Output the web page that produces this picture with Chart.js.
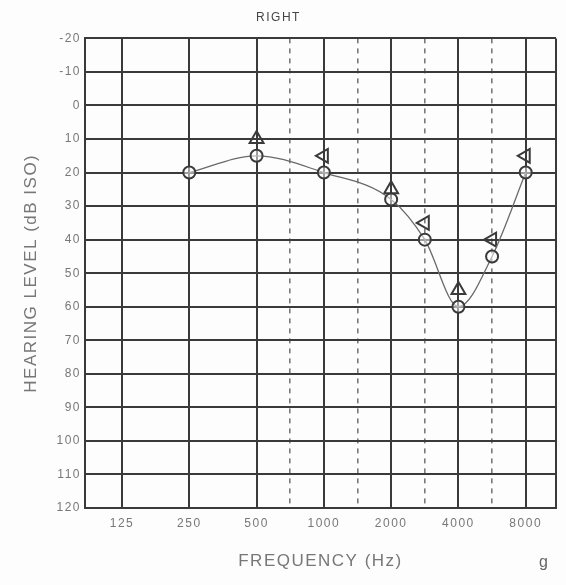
<!DOCTYPE html>
<html>
<head>
<meta charset="utf-8">
<script src="https://cdn.jsdelivr.net/npm/chart.js@4.4.1/dist/chart.umd.min.js"></script>
<style>
  html, body { margin: 0; padding: 0; background: #fdfdfd; }
  #wrap { position: relative; width: 566px; height: 585px; }
  #tag { position: absolute; left: 539px; top: 553px; font: 16px "Liberation Sans", sans-serif; color: #666; }
</style>
</head>
<body>
<div id="wrap"><canvas id="myChart"></canvas><span id="tag">g</span></div>
<script>
// audiogram, right ear (dB HL)
const freqs = [250, 500, 1000, 2000, 3000, 4000, 6000, 8000];
const circleLevels = [20, 15, 20, 28, 40, 60, 45, 20];
const triangleUpLevels = [null, 10, null, 25, null, 55, null, null];
const triangleLeftLevels = [null, null, 15, null, 35, null, 40, 15];
const octaveFreqs = [125, 250, 500, 1000, 2000, 4000, 8000];
const halfOctaveFreqs = [750, 1500, 3000, 6000];
const levelTicks = [-20, -10, 0, 10, 20, 30, 40, 50, 60, 70, 80, 90, 100, 110, 120];

// octave position on the audiogram (125 Hz = 0), inter-octaves sit half way
const pos = f => Math.round(2 * Math.log2(f / 125)) / 2;
const toPoints = levels => freqs.map((f, i) => ({ x: pos(f), y: levels[i] }));

const xMin = -0.55, xMax = 6.45;
const ink = '#3a3a3a';
const font = '"Liberation Sans", Arial, sans-serif';

const spacing = {
    id: 'spacing',
    beforeUpdate(chart) { chart.ctx.letterSpacing = '1.5px'; },
    beforeDraw(chart) { chart.ctx.letterSpacing = '1.5px'; }
};

const config = {
    type: 'line',
    data: {
        datasets: [{
            label: 'O',
            data: toPoints(circleLevels),
            borderColor: '#6a6a6a',
            borderWidth: 1.3,
            cubicInterpolationMode: 'monotone',
            pointStyle: 'circle',
            pointRadius: 6,
            pointBorderWidth: 2,
            pointBorderColor: ink,
            pointBackgroundColor: 'rgba(255,255,255,0.5)'
        }, {
            label: 'triangle',
            data: toPoints(triangleUpLevels),
            showLine: false,
            pointStyle: 'triangle',
            pointRadius: 8,
            pointBorderWidth: 2,
            pointBorderColor: ink,
            pointBackgroundColor: 'rgba(255,255,255,0)'
        }, {
            label: 'triangle left',
            data: toPoints(triangleLeftLevels),
            showLine: false,
            pointStyle: 'triangle',
            pointRotation: -90,
            pointRadius: 8,
            pointBorderWidth: 2,
            pointBorderColor: ink,
            pointBackgroundColor: 'rgba(255,255,255,0)'
        }]
    },
    options: {
        responsive: true,
        maintainAspectRatio: false,
        animation: false,
        layout: { padding: { left: 0, right: 9, top: 0, bottom: 0 } },
        plugins: {
            legend: { display: false },
            tooltip: { enabled: false },
            title: {
                display: true,
                text: 'RIGHT',
                color: '#444',
                font: { family: font, size: 12, weight: 'normal' },
                padding: { top: 10, bottom: 14 }
            }
        },
        scales: {
            x: {
                type: 'linear',
                position: 'bottom',
                min: xMin,
                max: xMax,
                afterBuildTicks: s => {
                    s.ticks = [xMin, ...octaveFreqs.map(pos), xMax].map(v => ({ value: v }));
                },
                afterFit: s => { s.height = 77; },
                ticks: {
                    color: '#777',
                    font: { family: font, size: 12 },
                    padding: 8,
                    maxRotation: 0,
                    autoSkip: false,
                    callback: v => {
                        const f = octaveFreqs.find(f => pos(f) === v);
                        return f ? String(f) : '';
                    }
                },
                grid: { color: ink, lineWidth: 2, drawTicks: false },
                border: { color: ink, width: 2 },
                title: {
                    display: true,
                    text: 'FREQUENCY (Hz)',
                    color: '#777',
                    font: { family: font, size: 17 },
                    padding: { top: 0, bottom: 13 }
                }
            },
            x2: {
                type: 'linear',
                position: 'bottom',
                min: xMin,
                max: xMax,
                afterBuildTicks: s => {
                    s.ticks = halfOctaveFreqs.map(f => ({ value: pos(f) }));
                },
                afterFit: s => { s.height = 0; },
                ticks: { display: false },
                grid: { color: '#7a7a7a', lineWidth: 1.6, drawTicks: false },
                border: { display: false, dash: [5, 5] }
            },
            y: {
                reverse: true,
                min: -20,
                max: 120,
                afterBuildTicks: s => {
                    s.ticks = levelTicks.map(v => ({ value: v }));
                },
                afterFit: s => { s.width = 85; },
                ticks: {
                    color: '#777',
                    font: { family: font, size: 12 },
                    padding: 4
                },
                grid: { color: ink, lineWidth: 2, drawTicks: false },
                border: { color: ink, width: 2 },
                title: {
                    display: true,
                    text: 'HEARING LEVEL (dB ISO)',
                    color: '#777',
                    font: { family: font, size: 17 },
                    padding: { top: 21, bottom: 0 }
                }
            }
        }
    },
    plugins: [spacing]
};

const myChart = new Chart(document.querySelector('#myChart'), config);
</script>
</body>
</html>
